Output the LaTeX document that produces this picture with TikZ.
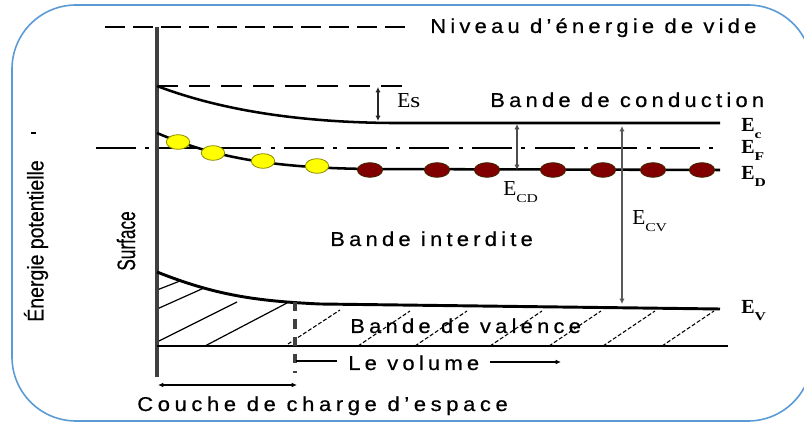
\documentclass[tikz,border=0pt]{standalone}
\usepackage{graphicx}
\usepackage{fontspec}
\setmainfont{Liberation Serif}
\newfontfamily\lblfont[LetterSpace=21,FakeStretch=1.1,FakeBold=0.5]{Liberation Sans}
\newfontfamily\couchefont[LetterSpace=23,FakeStretch=1.1,FakeBold=0.5]{Liberation Sans}
\newfontfamily\plainsans[FakeBold=0.5]{Liberation Sans}
\usetikzlibrary{arrows.meta,shapes.geometric}
\definecolor{framecol}{RGB}{91,155,213}
\definecolor{dotyellow}{RGB}{255,255,0}
\definecolor{dotyellowedge}{RGB}{140,140,0}
\definecolor{dotred}{RGB}{128,0,0}
\definecolor{dotrededge}{RGB}{60,40,0}
\newcommand{\lowsub}[1]{\raisebox{-0.32em}{\fontsize{9}{9}\selectfont\scalebox{1.3}[1]{#1}}}
\begin{document}
\begin{tikzpicture}[x=0.75pt,y=-0.75pt,
  txt/.style={font=\lblfont\fontsize{15}{17}\selectfont, inner sep=0pt, anchor=base west},
  elab/.style={font=\fontsize{15}{17}\selectfont\bfseries, inner sep=0pt, anchor=base west},
  elabr/.style={font=\fontsize{16}{18}\selectfont, inner sep=0pt, anchor=base west},
  yel/.style={ellipse,draw=dotyellowedge,fill=dotyellow,line width=0.6pt,minimum width=17.5pt,minimum height=11pt,inner sep=0pt},
  red/.style={ellipse,draw=dotrededge,fill=dotred,line width=0.6pt,minimum width=19pt,minimum height=11pt,inner sep=0pt},
  gaparrow/.style={draw=black!70,line width=1.5pt,{Latex[length=4pt,width=4pt]}-{Latex[length=4pt,width=4pt]}},
  thinarrow/.style={line width=0.9pt,{Latex[length=4pt,width=3.5pt]}-{Latex[length=4pt,width=3.5pt]}},
  hatchsolid/.style={line width=0.9pt},
  hatchdash/.style={line width=0.8pt,dash pattern=on 3pt off 1.5pt},
]
\useasboundingbox (0,0) rectangle (804,423);
\clip (0,0) rectangle (804,423);
% frame
\draw[framecol,line width=1.2pt,rounded corners=48pt] (12,5) rectangle (812,421);

% hatching (left solid part)
\draw[hatchsolid] (157,290) -- (180,281);
\draw[hatchsolid] (157,309) -- (204,288);
\draw[hatchsolid] (157,342) -- (237,302);
\draw[hatchsolid] (205,346) -- (287,303);
% hatching (right dashed part)
\draw[hatchdash] (288,344) -- (340,310);
\foreach \b in {358,415,490,549,603,662}{
  \draw[hatchdash] (\b,346) -- ({\b+52},311);
}

% vacuum level
\draw[line width=2.2pt,dash pattern=on 15pt off 6pt] (105,27) -- (408,27);
% surface wall
\draw[black!75,line width=2.3pt] (157,27) -- (157,377);
% dashed level at surface conduction
\draw[line width=2pt,dash pattern=on 16pt off 8pt] (157,86) -- (408,86);
% conduction band
\draw[line width=1.9pt] (157,86) .. controls (215,108) and (290,122) .. (390,123) -- (720,123);
% Fermi level
\draw[line width=1.8pt,dash pattern=on 30pt off 7pt on 3pt off 7pt] (96,148) -- (720,148);
% donor level
\draw[line width=1.9pt] (157,133) .. controls (215,158) and (275,168) .. (370,169) -- (720,170);
% valence band
\draw[line width=2.2pt] (157,272) .. controls (215,295) and (255,301) .. (320,304) -- (720,309);
% bottom line
\draw[line width=1.1pt] (157,346) -- (728,346);
% dashed vertical boundary
\draw[black!75,line width=2.3pt,dash pattern=on 7pt off 6pt] (295,302) -- (295,373);
\draw[line width=0.9pt] (296,361) -- (337,361);

% dots
\foreach \x/\y in {178/142,213/153,263/161,317/166}{
  \node[yel] at (\x,\y) {};
}
\foreach \x in {370,437,487,553,603,653,702}{
  \node[red] at (\x,170) {};
}

% coordinates for gap arrows
\coordinate (esTop) at (378,87);
\coordinate (esBot) at (378,121);
\coordinate (cdTop) at (517,124);
\coordinate (cdBot) at (517,170);
\coordinate (cvTop) at (622,126);
\coordinate (cvBot) at (622,304);
\draw[gaparrow,black!85] (esTop) -- (esBot);
\draw[gaparrow] (cdTop) -- (cdBot);
\draw[gaparrow,black!65,line width=1.8pt] (cvTop) -- (cvBot);

% texts
\node[txt] (vide) at (430,33) {Niveau d’énergie de vide};
\node[txt] (bc) at (490,107) {Bande de conduction};
\node[txt] (bi) at (330,246) {Bande interdite};
\node[txt] (bv) at (350,333) {Bande de valence};
\node[txt] (vol) at (348,370) {Le volume};
\node[txt,font=\couchefont\fontsize{15}{17}\selectfont] (couche) at (137,411) {Couche de charge d’espace};

% arrows bottom
\coordinate (volA) at (490,362);
\coordinate (volB) at (561,362);
\draw[line width=0.9pt,-{Latex[length=4pt,width=3.5pt]}] (volA) -- (volB);
\coordinate (ccA) at (158,385);
\coordinate (ccB) at (297,385);
\draw[thinarrow] (ccA) -- (ccB);

% energy labels
\node[elab] (Ec) at (741,132) {E\lowsub{c}};
\node[elab] (EF) at (741,154) {E\lowsub{F}};
\node[elab] (ED) at (741,180) {E\lowsub{D}};
\node[elab] (EV) at (741,314) {E\lowsub{V}};
\node[font=\fontsize{16}{18}\selectfont, inner sep=0pt, anchor=base west] (Es) at (397,108) {E\scalebox{1.2}[1]{s}};
\node[elabr] (Ecd) at (503,196) {E\lowsub{CD}};
\node[elabr] (Ecv) at (632,225) {E\lowsub{CV}};

% rotated labels
\node[rotate=90,font=\plainsans\fontsize{17}{19}\selectfont,inner sep=0pt] (epot) at (36,241) {\scalebox{0.86}[1]{Énergie potentielle}};
\node[rotate=90,font=\plainsans\fontsize{19}{21}\selectfont,inner sep=0pt] (surf) at (126,241) {\scalebox{0.68}[1]{Surface}};
\draw[line width=1.6pt] (31,133) -- (36,133);
\end{tikzpicture}
\end{document}
